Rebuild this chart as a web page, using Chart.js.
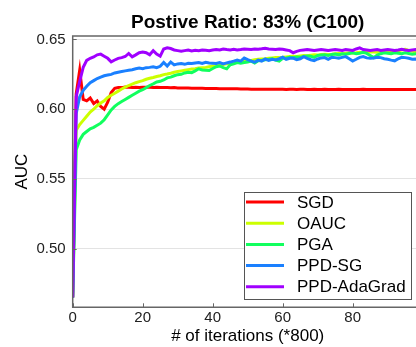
<!DOCTYPE html>
<html>
<head>
<meta charset="utf-8">
<script src="https://cdn.jsdelivr.net/npm/chart.js@4/dist/chart.umd.min.js"></script>
<style>
  body { margin: 0; background: #fff; }
  #wrap { width: 416px; height: 347px; overflow: hidden; }
</style>
</head>
<body>
<div id="wrap"><canvas id="chart" width="440" height="347"></canvas></div>
<script>
const chartTitle = 'Postive Ratio: 83% (C100)';
const seriesNames = ['SGD', 'OAUC', 'PGA', 'PPD-SG', 'PPD-AdaGrad'];
const seriesColors = ['#ff0000', '#ccff00', '#11ff5e', '#1a80ff', '#a000ff'];
const yTicks = [0.50, 0.55, 0.60, 0.65];
const xTicks = [0, 20, 40, 60, 80];

// iteration index (x800)
const iterations = Array.from({ length: 101 }, (_, i) => i);

const sgd = [
  0.465, 0.611, 0.628, 0.607, 0.606, 0.608, 0.604, 0.606, 0.602, 0.600,
  0.605, 0.612, 0.615, 0.6155, 0.6155, 0.616, 0.6158, 0.6155, 0.6158, 0.6156,
  0.6157, 0.6158, 0.6157, 0.6156, 0.6157, 0.6155, 0.6156, 0.6155, 0.6154, 0.6155,
  0.6153, 0.6153, 0.6152, 0.6152, 0.6151, 0.6151, 0.615, 0.615, 0.6149, 0.6149,
  0.6148, 0.6148, 0.6147, 0.6147, 0.6147, 0.6146, 0.6146, 0.6146, 0.6145, 0.6145,
  0.6145, 0.6144, 0.6144, 0.6144, 0.6143, 0.6144, 0.6143, 0.6143, 0.6144, 0.6143,
  0.6143, 0.6142, 0.6143, 0.6143, 0.6142, 0.6143, 0.6143, 0.6142, 0.6142, 0.6143,
  0.6142, 0.6142, 0.6143, 0.6142, 0.6142, 0.6142, 0.6143, 0.6142, 0.6142, 0.6142,
  0.6142, 0.6142, 0.6142, 0.6143, 0.6142, 0.6142, 0.6142, 0.6142, 0.6142, 0.6142,
  0.6142, 0.6142, 0.6142, 0.6142, 0.6142, 0.6142, 0.6142, 0.6142, 0.6142, 0.6142,
  0.6142
];
const oauc = [
  0.465, 0.585, 0.589, 0.592, 0.595, 0.598, 0.600, 0.6025, 0.6045, 0.606,
  0.6085, 0.610, 0.6115, 0.613, 0.6145, 0.6158, 0.617, 0.618, 0.619, 0.6198,
  0.6205, 0.6215, 0.6222, 0.6228, 0.6235, 0.624, 0.6248, 0.6252, 0.6258, 0.6265,
  0.627, 0.6275, 0.628, 0.6284, 0.6288, 0.629, 0.6295, 0.6298, 0.630, 0.6305,
  0.631, 0.6312, 0.6318, 0.632, 0.6325, 0.633, 0.6335, 0.6338, 0.634, 0.6345,
  0.6348, 0.635, 0.6355, 0.6358, 0.636, 0.6362, 0.6365, 0.6368, 0.637, 0.637,
  0.6372, 0.6375, 0.6378, 0.638, 0.6378, 0.6382, 0.6385, 0.6383, 0.6387, 0.639,
  0.6388, 0.6392, 0.6395, 0.6393, 0.6395, 0.6398, 0.640, 0.6398, 0.6402, 0.6405,
  0.6403, 0.6405, 0.6408, 0.6405, 0.641, 0.6412, 0.641, 0.6408, 0.6412, 0.6415,
  0.6413, 0.6415, 0.6418, 0.642, 0.6425, 0.643, 0.6422, 0.6415, 0.6412, 0.641,
  0.641
];
const pga = [
  0.465, 0.571, 0.578, 0.582, 0.584, 0.586, 0.587, 0.5885, 0.590, 0.5925,
  0.596, 0.5995, 0.602, 0.604, 0.6055, 0.607, 0.6085, 0.610, 0.6115, 0.613,
  0.614, 0.6155, 0.617, 0.6182, 0.6195, 0.620, 0.621, 0.6225, 0.623, 0.624,
  0.6248, 0.625, 0.626, 0.6265, 0.6262, 0.6275, 0.629, 0.6282, 0.628, 0.6278,
  0.6292, 0.6305, 0.631, 0.6298, 0.629, 0.6318, 0.6325, 0.6335, 0.633, 0.6335,
  0.6338, 0.6345, 0.6332, 0.6348, 0.635, 0.6355, 0.6358, 0.6362, 0.6352, 0.6345,
  0.6365, 0.6368, 0.6372, 0.637, 0.6375, 0.6372, 0.6378, 0.6382, 0.638, 0.6372,
  0.6385, 0.6388, 0.639, 0.6385, 0.6392, 0.6395, 0.639, 0.6398, 0.6395, 0.640,
  0.6405, 0.6398, 0.6402, 0.6408, 0.640, 0.6385, 0.637, 0.6388, 0.6398, 0.6405,
  0.6402, 0.6398, 0.6405, 0.6402, 0.6398, 0.6405, 0.640, 0.6395, 0.6398, 0.6402,
  0.6398
];
const ppdSg = [
  0.465, 0.597, 0.609, 0.6135, 0.6165, 0.619, 0.6205, 0.622, 0.623, 0.624,
  0.6245, 0.625, 0.626, 0.6265, 0.627, 0.6275, 0.628, 0.6283, 0.629, 0.6295,
  0.629, 0.6298, 0.630, 0.6305, 0.6298, 0.6308, 0.6335, 0.631, 0.6338, 0.6318,
  0.6325, 0.6328, 0.6322, 0.633, 0.6328, 0.6332, 0.6335, 0.6328, 0.6337, 0.6332,
  0.633, 0.6328, 0.6335, 0.6325, 0.6332, 0.6338, 0.6345, 0.6353, 0.6345, 0.6367,
  0.6355, 0.6345, 0.6337, 0.6352, 0.6345, 0.636, 0.635, 0.6358, 0.6353, 0.6362,
  0.6373, 0.6358, 0.6365, 0.6367, 0.6355, 0.6362, 0.6377, 0.6365, 0.6355, 0.6348,
  0.636, 0.6368, 0.637, 0.6358, 0.6372, 0.637, 0.6365, 0.6372, 0.6377, 0.6362,
  0.6345, 0.6358, 0.6372, 0.6377, 0.6368, 0.6365, 0.6367, 0.6372, 0.637, 0.6362,
  0.6358, 0.6352, 0.6347, 0.6362, 0.6372, 0.637, 0.6365, 0.6358, 0.636, 0.6355,
  0.635
];
const ppdAdaGrad = [
  0.465, 0.609, 0.620, 0.630, 0.635, 0.6365, 0.6375, 0.639, 0.6395, 0.638,
  0.6365, 0.634, 0.6353, 0.6365, 0.637, 0.6378, 0.640, 0.6376, 0.639, 0.6405,
  0.641, 0.6405, 0.639, 0.642, 0.6395, 0.638, 0.6432, 0.644, 0.6435, 0.6425,
  0.642, 0.6415, 0.642, 0.6425, 0.6418, 0.6422, 0.642, 0.6425, 0.6423, 0.642,
  0.6425, 0.6428, 0.6425, 0.6432, 0.6428, 0.6425, 0.643, 0.6425, 0.6428, 0.6432,
  0.643, 0.6428, 0.6432, 0.643, 0.6433, 0.6437, 0.6432, 0.643, 0.6428, 0.6432,
  0.643, 0.6425, 0.642, 0.6405, 0.6415, 0.6422, 0.6425, 0.6428, 0.6425, 0.6422,
  0.6425, 0.6428, 0.6425, 0.6422, 0.6425, 0.6428, 0.6425, 0.6422, 0.6428, 0.6425,
  0.6422, 0.6432, 0.644, 0.6428, 0.6425, 0.6422, 0.6425, 0.6428, 0.6422, 0.6425,
  0.6428, 0.6425, 0.6422, 0.6425, 0.643, 0.6425, 0.6422, 0.6425, 0.6428, 0.6425,
  0.6422
];

const seriesValues = [sgd, oauc, pga, ppdSg, ppdAdaGrad];

// frame, inward ticks, title and boxed legend
const decorations = {
  id: 'decorations',
  afterDatasetsDraw(chart) {
    const { ctx, chartArea: a, scales } = chart;
    ctx.save();
    ctx.strokeStyle = '#666';
    ctx.lineWidth = 1.5;
    ctx.beginPath();
    ctx.moveTo(a.right + 2, a.top);
    ctx.lineTo(a.left, a.top);
    ctx.lineTo(a.left, a.bottom);
    ctx.lineTo(a.right + 2, a.bottom);
    ctx.stroke();

    ctx.lineWidth = 1;
    ctx.beginPath();
    yTicks.forEach(v => {
      const y = Math.round(scales.y.getPixelForValue(v)) + 0.5;
      ctx.moveTo(a.left, y);
      ctx.lineTo(a.left + 4, y);
    });
    xTicks.forEach(v => {
      const x = Math.round(scales.x.getPixelForValue(v)) + 0.5;
      ctx.moveTo(x, a.bottom);
      ctx.lineTo(x, a.bottom - 4);
    });
    ctx.stroke();

    ctx.fillStyle = '#000';
    ctx.font = 'bold 19px "Liberation Sans", Arial, sans-serif';
    ctx.textAlign = 'center';
    ctx.textBaseline = 'middle';
    ctx.fillText(chartTitle, (a.left + a.right) / 2, 23);

    // legend box
    const lx = 244, ly = 192, lw = 167, lh = 107;
    ctx.fillStyle = '#fff';
    ctx.fillRect(lx, ly, lw, lh);
    ctx.strokeStyle = '#555';
    ctx.lineWidth = 1;
    ctx.strokeRect(lx + 0.5, ly + 0.5, lw, lh);
    ctx.font = '17px "Liberation Sans", Arial, sans-serif';
    ctx.textAlign = 'left';
    chart.data.datasets.forEach((ds, i) => {
      const y = 202 + i * 21.2;
      ctx.strokeStyle = ds.borderColor;
      ctx.lineWidth = 3;
      ctx.beginPath();
      ctx.moveTo(246, y);
      ctx.lineTo(284, y);
      ctx.stroke();
      ctx.fillStyle = '#000';
      ctx.fillText(ds.label, 297, y + 1);
    });
    ctx.restore();
  }
};

function initChart() {
  const ctx = document.getElementById('chart').getContext('2d');
  return new Chart(ctx, {
    type: 'line',
    data: {
      labels: iterations,
      datasets: seriesNames.map((name, i) => ({
        label: name,
        data: seriesValues[i],
        borderColor: seriesColors[i],
        borderWidth: 3,
        pointRadius: 0,
        tension: 0,
        fill: false,
        order: seriesNames.length - i
      }))
    },
    options: {
      responsive: false,
      animation: false,
      layout: { padding: { left: 0, right: 17.3, top: 36, bottom: 0 } },
      plugins: {
        legend: { display: false },
        title: { display: false },
        tooltip: { enabled: false }
      },
      scales: {
        x: {
          type: 'linear',
          min: 0,
          max: 100,
          afterFit: s => { s.height = 39.7; },
          afterBuildTicks: s => { s.ticks = xTicks.map(v => ({ value: v })); },
          grid: { display: false },
          border: { display: false },
          ticks: {
            color: '#222',
            padding: -6,
            font: { family: '"Liberation Sans", Arial, sans-serif', size: 15 }
          },
          title: {
            display: true,
            text: '# of iterations (*800)',
            color: '#000',
            padding: { top: 6, bottom: 0 },
            font: { family: '"Liberation Sans", Arial, sans-serif', size: 17 }
          }
        },
        y: {
          min: 0.458,
          max: 0.6525,
          afterFit: s => { s.width = 72.7; },
          afterBuildTicks: s => { s.ticks = yTicks.map(v => ({ value: v })); },
          grid: { color: '#e3e3e3', lineWidth: 1, drawTicks: false },
          border: { display: false },
          ticks: {
            color: '#222',
            padding: 7,
            callback: v => v.toFixed(2),
            font: { family: '"Liberation Sans", Arial, sans-serif', size: 15 }
          },
          title: {
            display: true,
            text: 'AUC',
            color: '#000',
            padding: { top: 12, bottom: 0 },
            font: { family: '"Liberation Sans", Arial, sans-serif', size: 17 }
          }
        }
      }
    },
    plugins: [decorations]
  });
}

initChart();
</script>
</body>
</html>
